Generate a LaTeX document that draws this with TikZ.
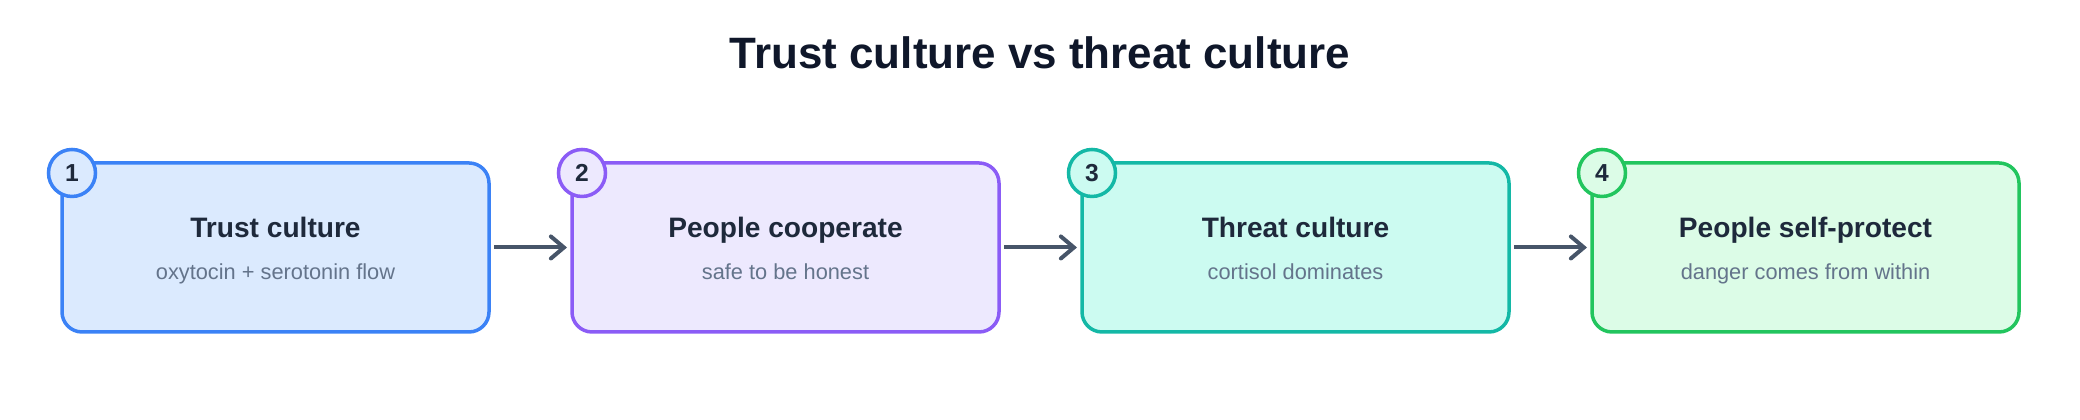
\documentclass[tikz,border=0pt]{standalone}
\usepackage{fontspec}
\setmainfont{Liberation Sans}
\usetikzlibrary{positioning,arrows.meta}

\definecolor{ink}{HTML}{0F172A}
\definecolor{headc}{HTML}{1E293B}
\definecolor{muted}{HTML}{64748B}
\definecolor{arrowc}{HTML}{475569}
\definecolor{blueline}{HTML}{3B82F6}
\definecolor{bluefill}{HTML}{DBEAFE}
\definecolor{purpleline}{HTML}{8B5CF6}
\definecolor{purplefill}{HTML}{EDE9FE}
\definecolor{tealline}{HTML}{14B8A6}
\definecolor{tealfill}{HTML}{CCFBF1}
\definecolor{greenline}{HTML}{22C55E}
\definecolor{greenfill}{HTML}{DCFCE7}

\tikzset{
	box/.style={draw, rounded corners=0.2cm, line width=0.035cm, minimum width=4.27cm, minimum height=1.69cm, inner sep=0pt, outer sep=0pt},
	num/.style={draw, circle, line width=0.035cm, minimum size=0.47cm, inner sep=0pt, font=\fontsize{7}{8}\selectfont\bfseries, text=headc},
	head/.style={anchor=base, font=\fontsize{8}{9}\selectfont\bfseries, text=headc},
	sub/.style={anchor=base, font=\fontsize{6.2}{7}\selectfont, text=muted},
	link/.style={draw=arrowc, line width=0.04cm, -{Straight Barb[length=0.13cm,width=0.22cm,line cap=round]}, shorten >=0.05cm, shorten <=0.05cm}
}

\begin{document}
\begin{tikzpicture}[node distance=0.83cm]

\useasboundingbox (0,0) rectangle (20.8,4.2);

% TITLE

\node[anchor=base, font=\fontsize{12.5}{14}\selectfont\bfseries, text=ink] (title) at (10.4,3.51) {Trust culture vs threat culture};

% BOXES

\node[box, draw=blueline, fill=bluefill] (b1) at (2.755,1.725) {};
\node[box, draw=purpleline, fill=purplefill, right=of b1] (b2) {};
\node[box, draw=tealline, fill=tealfill, right=of b2] (b3) {};
\node[box, draw=greenline, fill=greenfill, right=of b3] (b4) {};

% NUMBERS

\node[num, draw=blueline, fill=bluefill] (n1) at ([xshift=0.1cm,yshift=-0.1cm]b1.north west) {1};
\node[num, draw=purpleline, fill=purplefill] (n2) at ([xshift=0.1cm,yshift=-0.1cm]b2.north west) {2};
\node[num, draw=tealline, fill=tealfill] (n3) at ([xshift=0.1cm,yshift=-0.1cm]b3.north west) {3};
\node[num, draw=greenline, fill=greenfill] (n4) at ([xshift=0.1cm,yshift=-0.1cm]b4.north west) {4};

% TEXTS

\node[head] (t1) at ([yshift=0.095cm]b1.center) {Trust culture};
\node[sub] (s1) at ([yshift=-0.32cm]b1.center) {oxytocin + serotonin flow};
\node[head] (t2) at ([yshift=0.095cm]b2.center) {People cooperate};
\node[sub] (s2) at ([yshift=-0.32cm]b2.center) {safe to be honest};
\node[head] (t3) at ([yshift=0.095cm]b3.center) {Threat culture};
\node[sub] (s3) at ([yshift=-0.32cm]b3.center) {cortisol dominates};
\node[head] (t4) at ([yshift=0.095cm]b4.center) {People self-protect};
\node[sub] (s4) at ([yshift=-0.32cm]b4.center) {danger comes from within};

% ARROWS

\draw[link] (b1) -- (b2);
\draw[link] (b2) -- (b3);
\draw[link] (b3) -- (b4);

\end{tikzpicture}
\end{document}
